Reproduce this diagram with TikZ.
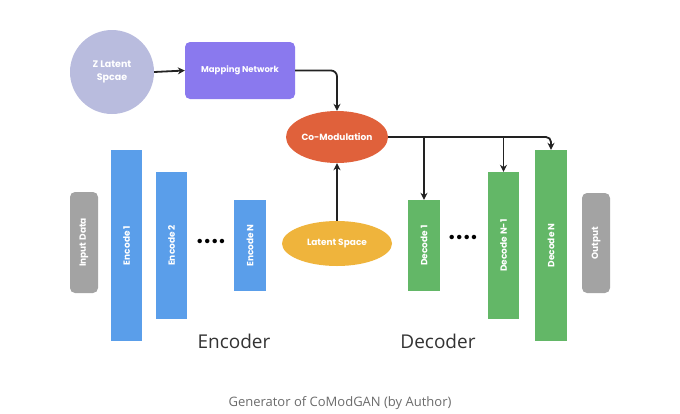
\documentclass[tikz,border=0pt]{standalone}
\usepackage{fontspec}
\setmainfont{Poppins}
\newfontfamily\capfont{Open Sans}
\usetikzlibrary{arrows.meta,shapes.geometric}
\definecolor{lav}{HTML}{B9BCDE}
\definecolor{purp}{HTML}{8A79EE}
\definecolor{cored}{HTML}{E0613B}
\definecolor{latyel}{HTML}{EFB43C}
\definecolor{encblue}{HTML}{5A9EEA}
\definecolor{decgreen}{HTML}{63B767}
\definecolor{boxgray}{HTML}{A3A3A3}
\definecolor{linec}{HTML}{222222}
\definecolor{capgray}{HTML}{6B6B6B}
\tikzset{
  lbl/.style={text=white,font=\bfseries\fontsize{9}{11}\selectfont},
  encbox/.style={fill=encblue,draw=none,inner sep=0pt},
  decbox/.style={fill=decgreen,draw=none,inner sep=0pt},
  graybox/.style={fill=boxgray,draw=none,rounded corners=5pt,inner sep=0pt},
  conn/.style={draw=linec,line width=1.8pt,-{Stealth[length=7pt,width=7pt]}},
  dots/.style={font=\fontsize{18}{18}\selectfont,text=black},
  big/.style={font=\capfont\fontsize{19}{20}\selectfont,text=black!80}
}
\begin{document}
\begin{tikzpicture}[x=1pt,y=-1pt]
\useasboundingbox (0,0) rectangle (680,413);
% top
\node[circle,fill=lav,minimum size=84pt,inner sep=0pt,lbl,font=\bfseries\fontsize{9.5}{13}\selectfont,align=center] (z) at (112,72) {Z Latent\\Spcae};
\node[fill=purp,rounded corners=5pt,minimum width=110pt,minimum height=57pt,inner sep=0pt,lbl,font=\bfseries\fontsize{8.5}{10}\selectfont] (map) at (240,70.5) {Mapping Network};
\node[ellipse,fill=cored,minimum width=102pt,minimum height=52pt,inner sep=0pt,lbl] (co) at (337,137) {Co-Modulation};
\node[ellipse,fill=latyel,minimum width=110pt,minimum height=45pt,inner sep=0pt,lbl] (lat) at (337,243.5) {Latent Space};
% encoder
\node[graybox,minimum width=28pt,minimum height=101pt] (in) at (84,242.5) {};
\node[lbl,rotate=90] at (in.center) {Input Data};
\node[encbox,minimum width=31pt,minimum height=191pt] (e1) at (126.5,245.5) {};
\node[lbl,rotate=90] at (e1.center) {Encode 1};
\node[encbox,minimum width=31pt,minimum height=147pt] (e2) at (171.5,245.5) {};
\node[lbl,rotate=90] at (e2.center) {Encode 2};
\node[encbox,minimum width=32pt,minimum height=91pt] (en) at (250,245.5) {};
\node[lbl,rotate=90] at (en.center) {Encode N};
\node[dots] (d1) at (211,243) {••••};
% decoder
\node[decbox,minimum width=32pt,minimum height=91pt] (dd1) at (424,245.5) {};
\node[lbl,rotate=90] at (dd1.center) {Decode 1};
\node[decbox,minimum width=31pt,minimum height=147pt] (ddn1) at (503.5,245.5) {};
\node[lbl,rotate=90] at (ddn1.center) {Decode N-1};
\node[decbox,minimum width=32pt,minimum height=191pt] (ddn) at (551,245.5) {};
\node[lbl,rotate=90] at (ddn.center) {Decode N};
\node[graybox,minimum width=28pt,minimum height=100pt] (out) at (596,243) {};
\node[lbl,rotate=90] at (out.center) {Output};
\node[dots] (d2) at (463,239) {••••};
% labels
\node[big] (enc) at (234,341) {Encoder};
\node[big] (dec) at (438,341) {Decoder};
\node[font=\capfont\fontsize{13}{14}\selectfont,text=capgray] (cap) at (340,403) {Generator of CoModGAN (by Author)};
% connectors
\draw[conn] (z.east) -- (map.west);
\draw[conn,rounded corners=6pt] (map.east) -- (co.north |- map.east) -- (co.north);
\draw[conn] (lat.north) -- (co.south);
\draw[linec,line width=1.8pt,rounded corners=5pt] (co.east) -- (ddn.north |- co.east) -- ++(0,6);
\draw[conn] (ddn.north |- co.east) ++(0,5) -- (ddn.north);
\draw[conn] (dd1.north |- co.east) -- (dd1.north);
\draw[conn] (ddn1.north |- co.east) -- (ddn1.north);
\end{tikzpicture}
\end{document}
